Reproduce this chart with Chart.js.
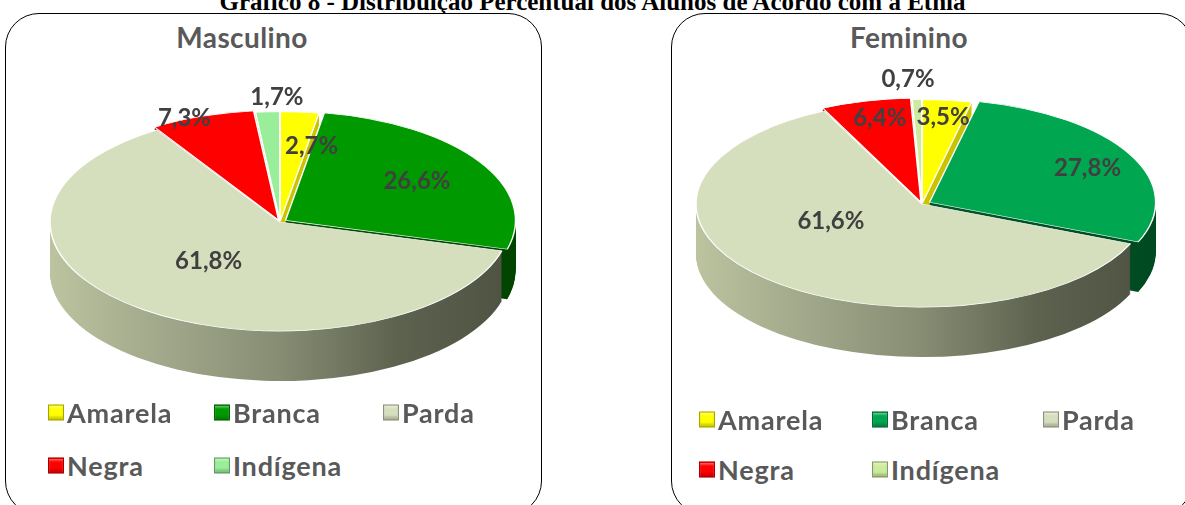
<!DOCTYPE html>
<html>
<head>
<meta charset="utf-8">
<script src="https://cdn.jsdelivr.net/npm/chart.js@4.4.0/dist/chart.umd.min.js"></script>
<style>
  body { margin: 0; width: 1185px; height: 505px; overflow: hidden; background: #fff; position: relative; font-family: Lato, sans-serif; }
  #title { position: absolute; left: 0; top: -12px; width: 1185px; line-height: 25px; text-align: center; font: bold 25px "Liberation Serif", serif; color: #000; white-space: nowrap; }
  .panel { position: absolute; top: 13px; height: 500px; border: 1.5px solid #000; border-radius: 34px; background: #fff; }
  .ptitle { position: absolute; top: 20px; font: bold 28px Lato, sans-serif; letter-spacing: 0.4px; color: #595959; transform: translateX(-50%); white-space: nowrap; }
  canvas { position: absolute; top: 0; }
  .item { position: absolute; display: flex; align-items: center; white-space: nowrap; font: bold 27px Lato, sans-serif; letter-spacing: 0.8px; color: #595959; transform: translateY(-50%); }
  .box { width: 14px; height: 14px; margin-right: 3px; border: 1px solid rgba(0,0,0,0.35); box-shadow: inset 0 -3px 2px rgba(0,0,0,0.18), inset 0 2px 2px rgba(255,255,255,0.4); }
</style>
</head>
<body>
<div id="title">Gráfico 8 - Distribuição Percentual dos Alunos de Acordo com a Etnia</div>
<div class="panel" style="left:5px; width:535px;"></div>
<div class="panel" style="left:671px; width:520px;"></div>
<div class="ptitle" style="left:242px;">Masculino</div>
<div class="ptitle" style="left:909px;">Feminino</div>
<canvas id="chartM" width="560" height="444" style="left:0px;"></canvas>
<canvas id="chartF" width="560" height="408" style="left:642px;"></canvas>
<div id="legendM"></div>
<div id="legendF"></div>
<script>
// data
const categories = ['Amarela', 'Branca', 'Parda', 'Negra', 'Indígena'];
const masculino = [2.7, 26.6, 61.8, 7.3, 1.7];
const feminino = [3.5, 27.8, 61.6, 6.4, 0.7];

// colours (top face / side wall)
const topM = ['#ffff00', '#009a00', '#d6dfbd', '#ff0000', '#99ee99'];
const topF = ['#ffff00', '#00a650', '#d6dfbd', '#ff0000', '#cdeb9c'];
const wallM = [['#d6d000', '#c2b800'], ['#005c00', '#004400'], null, ['#9a0000', '#7a0000'], ['#6cbf6c', '#4f9a4f']];
const wallF = [['#d6d000', '#c2b800'], ['#006430', '#004a22'], null, ['#9a0000', '#7a0000'], ['#a9c77f', '#8aa862']];
const pardaWall = ['#bcc39f', '#a0a78a', '#878d73', '#5e6350', '#4d5242'];

function fmt(v) {
    return v.toFixed(1).replace('.', ',') + '%';
}

// path of one slice, same geometry the arc element uses (incl. offset)
function slicePath(ctx, arc) {
    const off = (arc.options.offset || 0) / 4;
    const mid = (arc.startAngle + arc.endAngle) / 2;
    const circ = arc.endAngle - arc.startAngle;
    const rad = arc.outerRadius + off * (1 - Math.sin(Math.min(Math.PI, circ)));
    const ox = arc.x + Math.cos(mid) * off;
    const oy = arc.y + Math.sin(mid) * off;
    ctx.beginPath();
    ctx.moveTo(ox, oy);
    ctx.arc(ox, oy, rad, arc.startAngle, arc.endAngle);
    ctx.closePath();
}

// squashes the pie into an ellipse and extrudes a side wall under it
const pie3d = {
    id: 'pie3d',
    beforeDatasetsDraw(chart, args, opts) {
        const ctx = chart.ctx;
        const arcs = chart.getDatasetMeta(0).data;
        const cx = arcs[0].x, cy = arcs[0].y, r = arcs[0].outerRadius;

        const fills = opts.walls.map(w => {
            const g = ctx.createLinearGradient(cx - r, 0, cx + r, 0);
            const stops = w || pardaWall;
            stops.forEach((c, j) => g.addColorStop(j / (stops.length - 1), c));
            return g;
        });

        ctx.save();
        ctx.translate(cx, cy);
        ctx.scale(1, opts.k);
        ctx.translate(-cx, -cy);
        for (let d = opts.depth; d >= 1; d--) {
            ctx.save();
            ctx.translate(0, d / opts.k);
            arcs.forEach((arc, i) => {
                ctx.fillStyle = fills[i];
                slicePath(ctx, arc);
                ctx.fill();
            });
            ctx.restore();
        }
        // transform stays on for the top faces drawn by Chart.js
    },
    afterDatasetsDraw(chart, args, opts) {
        const ctx = chart.ctx;
        ctx.restore();

        const arcs = chart.getDatasetMeta(0).data;
        const values = chart.data.datasets[0].data;
        const cx = arcs[0].x, cy = arcs[0].y, r = arcs[0].outerRadius;
        ctx.save();
        ctx.font = 'bold 24px Lato, sans-serif';
        ctx.fillStyle = '#404040';
        ctx.textAlign = 'center';
        ctx.textBaseline = 'middle';
        arcs.forEach((arc, i) => {
            const mid = (arc.startAngle + arc.endAngle) / 2;
            const [f, dx, dy] = opts.labels[i];
            const lx = cx + Math.cos(mid) * r * f + dx;
            const ly = cy + Math.sin(mid) * r * f * opts.k + dy;
            ctx.fillText(fmt(values[i]), lx, ly);
        });
        ctx.restore();
    }
};

function makePie(id, values, colors, walls, radius, k, offsets, labels) {
    const ctx = document.getElementById(id).getContext('2d');
    return new Chart(ctx, {
        type: 'pie',
        data: {
            labels: categories,
            datasets: [{
                data: values,
                backgroundColor: colors,
                borderColor: '#ffffff',
                borderWidth: 1.5,
                offset: offsets,
                radius: radius,
                clip: false
            }]
        },
        options: {
            responsive: false,
            animation: false,
            events: [],
            layout: { padding: 0 },
            plugins: {
                legend: { display: false },
                tooltip: { enabled: false },
                pie3d: { k: k, depth: 50, walls: walls, labels: labels }
            }
        },
        plugins: [pie3d]
    });
}

makePie('chartM', masculino, topM, wallM, 230, 0.474, [6, 26, 0, 16, 6],
    [[0.70, 18, 0], [0.68, 5, -1], [0.5, -3, -5], [1.01, -19, 0], [1.148, 11, 0]]);
makePie('chartF', feminino, topF, wallF, 226, 0.456, [6, 34, 0, 16, 6],
    [[0.85, 0, 0], [0.75, 15, 0], [0.45, -21, -16], [0.862, 5, 0], [1.21, -8, 0]]);

// legends
function buildLegend(elId, colors, cols, rows) {
    const el = document.getElementById(elId);
    categories.forEach((name, i) => {
        const item = document.createElement('div');
        item.className = 'item';
        item.style.left = cols[i % 3] + 'px';
        item.style.top = rows[Math.floor(i / 3)] + 'px';
        const box = document.createElement('span');
        box.className = 'box';
        box.style.background = colors[i];
        item.appendChild(box);
        item.appendChild(document.createTextNode(name));
        el.appendChild(item);
    });
}
buildLegend('legendM', topM, [48, 214, 383], [412, 465]);
buildLegend('legendF', topF, [699, 872, 1043], [419, 469]);
</script>
</body>
</html>
